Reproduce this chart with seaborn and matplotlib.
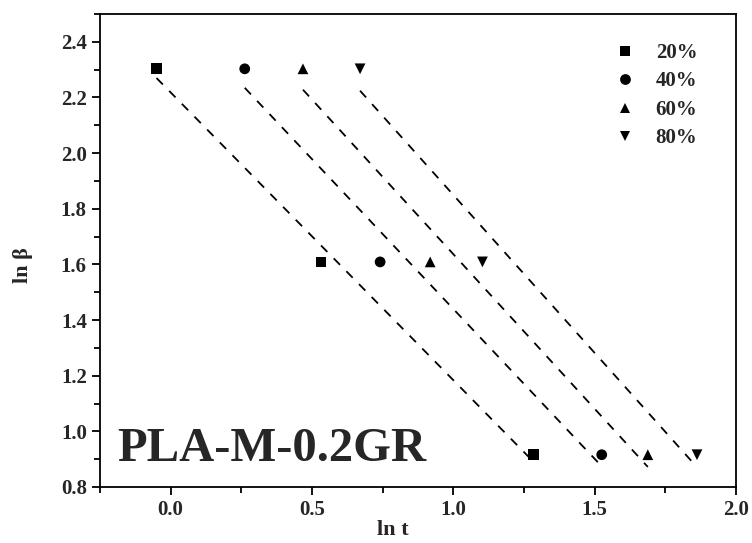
import numpy as np
import pandas as pd
import matplotlib
matplotlib.use("Agg")
import matplotlib.pyplot as plt
from matplotlib.ticker import MultipleLocator
import seaborn as sns

# ---- data ----
ln_beta = [2.303, 1.609, 0.916]
series = ["20%", "40%", "60%", "80%"]
x_20 = [-0.05, 0.532, 1.284]
x_40 = [0.262, 0.741, 1.525]
x_60 = [0.468, 0.918, 1.688]
x_80 = [0.670, 1.103, 1.862]
title_text = "PLA-M-0.2GR"

xs = [x_20, x_40, x_60, x_80]
df = pd.DataFrame({
    "ln t": sum(xs, []),
    "ln beta": ln_beta * 4,
    "conv": [s for s in series for _ in ln_beta],
})

sns.set_theme(style="ticks")
plt.rcParams["font.family"] = ["Liberation Serif", "DejaVu Serif"]
plt.rcParams["font.weight"] = "bold"

fig = plt.figure(figsize=(7.52, 5.43), dpi=100)
ax = fig.add_axes([100/752, (543-487)/543, (736-100)/752, (487-14)/543])

markers = {"20%": "s", "40%": "o", "60%": "^", "80%": "v"}
sns.scatterplot(data=df, x="ln t", y="ln beta", style="conv", markers=markers,
                color="black", s=60, edgecolor="black", linewidth=0, ax=ax,
                zorder=3)

for s in series:
    sub = df[df["conv"] == s]
    sns.regplot(data=sub, x="ln t", y="ln beta", scatter=False, ci=None,
                truncate=True, ax=ax,
                line_kws=dict(color="black", lw=1.3, ls=(0, (5, 5))))

ax.set_xlim(-0.25, 2.0)
ax.set_ylim(0.8, 2.5)
ax.xaxis.set_major_locator(MultipleLocator(0.5))
ax.xaxis.set_minor_locator(MultipleLocator(0.25))
ax.yaxis.set_minor_locator(MultipleLocator(0.1))
ax.set_yticks([0.8, 1.0, 1.2, 1.4, 1.6, 1.8, 2.0, 2.2, 2.4])
ax.tick_params(which="major", direction="out", length=6, width=1.3,
               labelsize=15, color="black")
ax.tick_params(which="minor", direction="out", length=4, width=1.3, color="black")
for lab in ax.get_xticklabels() + ax.get_yticklabels():
    lab.set_fontweight("bold")
for sp in ax.spines.values():
    sp.set_linewidth(1.3)
    sp.set_color("black")
    sp.set_visible(True)

ax.set_xlabel("ln t", fontsize=16, fontweight="bold")
ax.set_ylabel("ln β", fontsize=16, fontweight="bold")
ax.xaxis.set_label_coords(0.46, -0.07)
ax.yaxis.set_label_coords(-0.105, 0.47)

ax.text(0.027, 0.055, title_text, transform=ax.transAxes, fontsize=35,
        fontweight="bold", ha="left", va="baseline")

leg = ax.legend(loc="upper left", bbox_to_anchor=(0.764, 0.978), frameon=False,
                fontsize=15, handletextpad=0.45, labelspacing=0.4,
                markerscale=1.0, title=None)
for t in leg.get_texts():
    t.set_fontweight("bold")

fig.savefig("out.png", dpi=100)
